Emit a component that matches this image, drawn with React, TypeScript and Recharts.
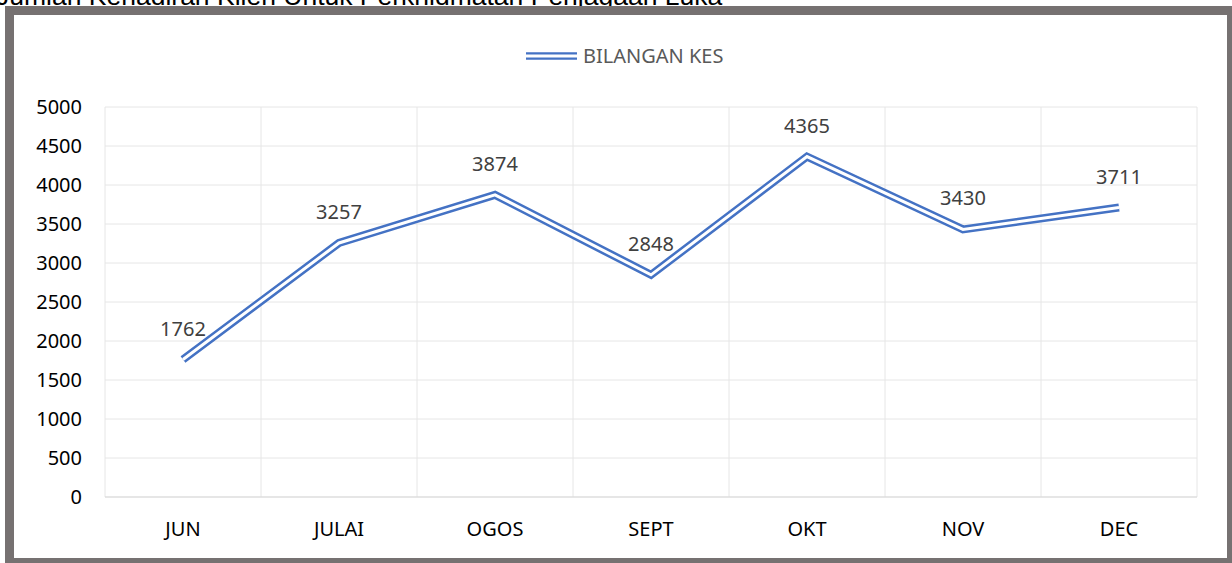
import { LineChart, Line, XAxis, YAxis, CartesianGrid, Legend, LabelList } from 'recharts';

// bulan dan bilangan kes
const months = ['JUN', 'JULAI', 'OGOS', 'SEPT', 'OKT', 'NOV', 'DEC'];
const kes = [1762, 3257, 3874, 2848, 4365, 3430, 3711];
const yTicks = [0, 500, 1000, 1500, 2000, 2500, 3000, 3500, 4000, 4500, 5000];

const data = months.map((m, i) => ({ bulan: m, kes: kes[i] }));

const BLUE = '#4472C4';
const FONT = '"Noto Sans", sans-serif';

function LegendKes() {
  return (
    <div style={{ display: 'flex', alignItems: 'center', fontFamily: FONT }}>
      <svg width={51} height={12}>
        <line x1={0} y1={6} x2={51} y2={6} stroke={BLUE} strokeWidth={7.5} />
        <line x1={0} y1={6} x2={51} y2={6} stroke="#fff" strokeWidth={3} />
      </svg>
      <span style={{ marginLeft: 6, fontSize: 20, color: '#595959', lineHeight: '24px' }}>
        BILANGAN KES
      </span>
    </div>
  );
}

function App() {
  return (
    <div
      style={{
        position: 'absolute',
        left: 0,
        top: 0,
        width: 1232,
        height: 563,
        overflow: 'hidden',
        background: '#fff',
      }}
    >
      <div
        style={{
          position: 'absolute',
          left: -4,
          top: -17,
          fontFamily: '"Liberation Sans", Arial, sans-serif',
          fontSize: 26.5,
          lineHeight: '26px',
          color: '#000',
          whiteSpace: 'nowrap',
        }}
      >
        Jumlah Kehadiran Klien Untuk Perkhidmatan Penjagaan Luka
      </div>
      <div
        style={{
          position: 'absolute',
          left: 5,
          top: 6,
          width: 1213,
          height: 543,
          border: '9px solid #767171',
          background: '#fff',
        }}
      />
      <div style={{ position: 'absolute', left: 0, top: 0 }}>
        <LineChart
          width={1232}
          height={563}
          data={data}
          margin={{ top: 107, right: 35, bottom: 36, left: 45 }}
          style={{ fontFamily: FONT }}
        >
          <CartesianGrid
            stroke="#e6e6e6"
            verticalCoordinatesGenerator={({ offset }: any) =>
              months.map((_, i) => offset.left + (i * offset.width) / months.length).concat(offset.left + offset.width)
            }
          />
          <XAxis
            dataKey="bulan"
            scale="band"
            height={30}
            axisLine={{ stroke: '#d9d9d9' }}
            tickLine={false}
            tickSize={0}
            tickMargin={25}
            tick={{ fill: '#000', fontSize: 20 }}
            interval={0}
          />
          <YAxis
            domain={[0, 5000]}
            ticks={yTicks}
            width={60}
            axisLine={false}
            tickLine={false}
            tickSize={0}
            tickMargin={23}
            tick={{ fill: '#000', fontSize: 20 }}
            interval={0}
          />
          <Legend
            layout="vertical"
            verticalAlign="middle"
            align="center"
            wrapperStyle={{ top: 44, left: 526, width: 220, height: 24 }}
            content={() => <LegendKes />}
          />
          <Line
            type="linear"
            dataKey="kes"
            stroke={BLUE}
            strokeWidth={8}
            strokeLinejoin="miter"
            dot={false}
            activeDot={false}
            isAnimationActive={false}
            legendType="none"
          />
          <Line
            type="linear"
            dataKey="kes"
            stroke="#fff"
            strokeWidth={3}
            strokeLinejoin="miter"
            dot={false}
            activeDot={false}
            isAnimationActive={false}
            legendType="none"
          >
            <LabelList dataKey="kes" position="top" offset={24} fill="#404040" fontSize={20} />
          </Line>
        </LineChart>
      </div>
    </div>
  );
}

export default App;
